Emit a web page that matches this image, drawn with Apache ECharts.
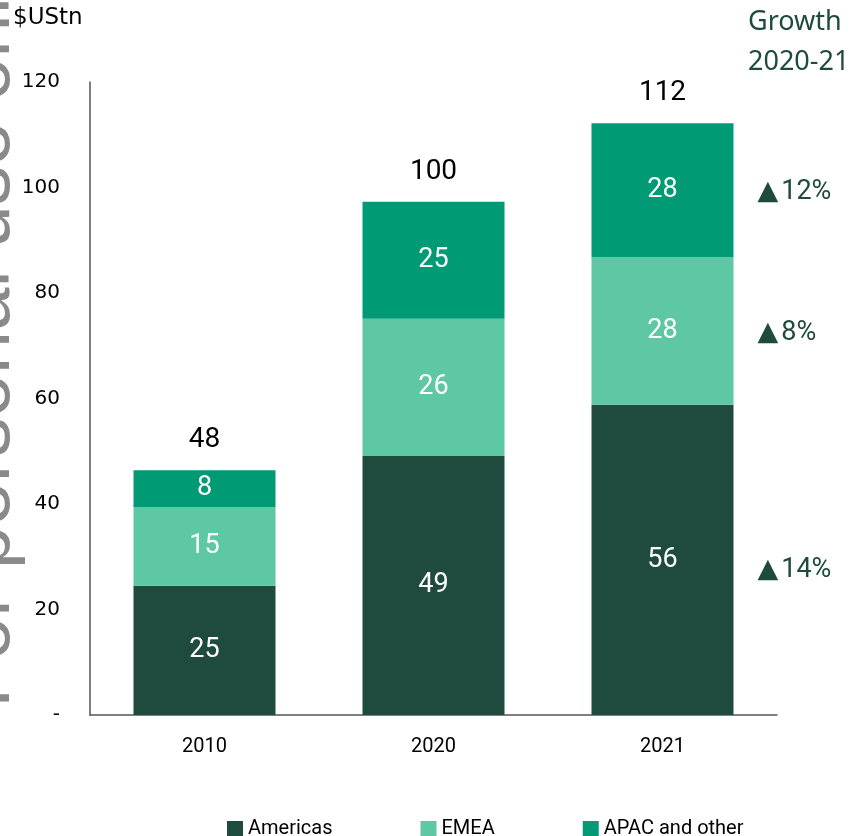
<!DOCTYPE html>
<html>
<head>
<meta charset="utf-8">
<script src="https://cdn.jsdelivr.net/npm/echarts@6/dist/echarts.min.js"></script>
<style>
  html, body { margin: 0; padding: 0; background: #ffffff; }
  #main { width: 859px; height: 836px; }
</style>
</head>
<body>
<div id="main"></div>
<script>
// data
var years = ['2010', '2020', '2021'];
var americas = [24.5, 49.1, 58.8];
var emea = [14.9, 26.0, 28.0];
var apac = [7.0, 22.2, 25.4];
// printed labels
var americasLabels = ['25', '49', '56'];
var emeaLabels = ['15', '26', '28'];
var apacLabels = ['8', '25', '28'];
var totalLabels = ['48', '100', '112'];
var growth = ['14%', '8%', '12%']; // americas, emea, apac (2020-21)

var cDark = '#1e4b3e', cLight = '#5ec8a5', cMid = '#009b74';
var condensed = 'Roboto';

var myChart = echarts.init(document.getElementById('main'));

function insideLabel(arr) {
  return {
    show: true,
    position: 'inside',
    color: '#ffffff',
    fontFamily: condensed,
    fontSize: 27,
    formatter: function (p) { return arr[p.dataIndex]; }
  };
}

var option = {
  animation: false,
  grid: { left: 90, right: 82, top: 82, bottom: 121 },
  legend: {
    data: ['Americas', 'EMEA', 'APAC and other'],
    left: 222,
    top: 814,
    icon: 'rect',
    itemWidth: 16,
    itemHeight: 16,
    itemGap: 88,
    textStyle: { fontFamily: condensed, fontSize: 20, color: '#000000' }
  },
  xAxis: {
    type: 'category',
    data: years,
    axisLine: { lineStyle: { color: '#555555', width: 1.5 } },
    axisTick: { show: false },
    axisLabel: { color: '#000000', fontFamily: condensed, fontSize: 20, margin: 22 }
  },
  yAxis: {
    type: 'value',
    min: 0,
    max: 120,
    interval: 20,
    axisLine: { show: true, lineStyle: { color: '#555555', width: 1.5 } },
    axisTick: { show: false },
    splitLine: { show: false },
    axisLabel: {
      color: '#000000',
      fontFamily: 'DejaVu Sans',
      fontSize: 20,
      margin: 30,
      formatter: function (v) { return v === 0 ? '-' : String(v); }
    }
  },
  series: [
    {
      name: 'Americas', type: 'bar', stack: 'total', barWidth: 142,
      itemStyle: { color: cDark }, data: americas, label: insideLabel(americasLabels)
    },
    {
      name: 'EMEA', type: 'bar', stack: 'total',
      itemStyle: { color: cLight }, data: emea, label: insideLabel(emeaLabels)
    },
    {
      name: 'APAC and other', type: 'bar', stack: 'total',
      itemStyle: { color: cMid }, data: apac, label: insideLabel(apacLabels)
    },
    {
      name: 'total', type: 'bar', stack: 'total',
      itemStyle: { color: 'transparent' },
      data: [0, 0, 0],
      label: {
        show: true, position: 'top', distance: 16,
        color: '#000000', fontFamily: condensed, fontSize: 28,
        formatter: function (p) { return totalLabels[p.dataIndex]; }
      }
    }
  ]
};
myChart.setOption(option);

// growth annotations next to the 2021 bar, placed at segment midpoints
var last = years.length - 1;
var mids = [
  americas[last] / 2,
  americas[last] + emea[last] / 2,
  americas[last] + emea[last] + apac[last] / 2
];
var graphics = [];
for (var i = 0; i < mids.length; i++) {
  var pt = myChart.convertToPixel({ gridIndex: 0 }, [years[last], mids[i]]);
  graphics.push({
    type: 'text',
    x: pt[0] + 95,
    y: pt[1] + (i === 0 ? 10 : 2),
    style: {
      text: '{t|▲}' + growth[i],
      fill: cDark,
      font: '27px ' + condensed,
      verticalAlign: 'middle',
      align: 'left',
      rich: { t: { fontSize: 27, fill: cDark, fontFamily: 'DejaVu Sans', padding: [0, 3, 0, 0] } }
    }
  });
}
graphics.push({
  type: 'text', left: 748, top: 2,
  style: { text: 'Growth\n2020-21', fill: cDark, font: '27px Noto Sans', lineHeight: 40 }
});
graphics.push({
  type: 'text', left: 13, top: 7,
  style: { text: '$UStn', fill: '#000000', font: '23px DejaVu Sans' }
});
// faint watermark running up the left edge, mostly cut off
graphics.push({
  type: 'text', x: 26, y: 708, rotation: Math.PI / 2, z: -1,
  style: {
    text: 'For personal use only', fill: '#8a8a8a',
    font: '78px Liberation Sans', align: 'left', verticalAlign: 'bottom'
  }
});
myChart.setOption({ graphic: graphics });
</script>
</body>
</html>
